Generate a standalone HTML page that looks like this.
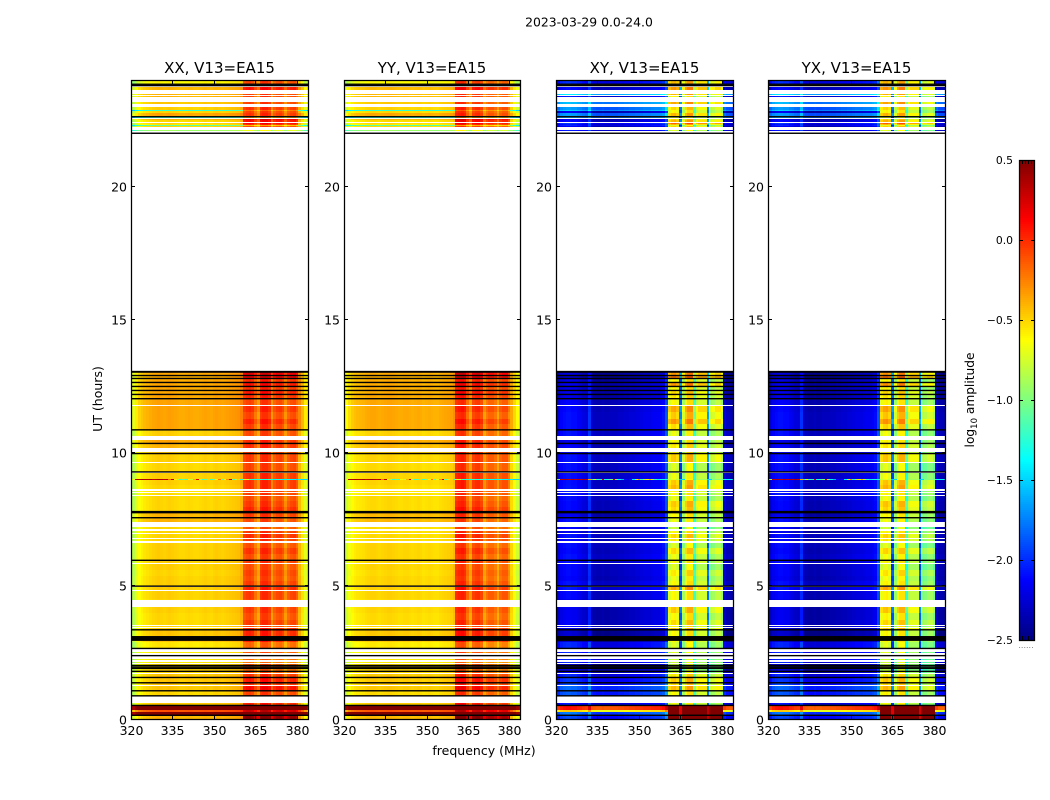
<!DOCTYPE html>
<html>
<head>
<meta charset="utf-8">
<title>2023-03-29 amplitude waterfall</title>
<style>
html,body{margin:0;padding:0;background:#fff;width:1050px;height:800px;overflow:hidden}
svg{display:block}
text{font-family:"DejaVu Sans","Liberation Sans",sans-serif;fill:#000}
</style>
</head>
<body>
<svg id="chart" xmlns="http://www.w3.org/2000/svg" width="1050" height="800" viewBox="0 0 1050 800">
  <rect x="0" y="0" width="1050" height="800" fill="#fff"/>
  <text x="589" y="26.5" font-size="12.4" text-anchor="middle">2023-03-29 0.0-24.0</text>
  <text x="484" y="755" font-size="12.5" text-anchor="middle">frequency (MHz)</text>
  <text transform="translate(102,399) rotate(-90)" font-size="12.5" text-anchor="middle">UT (hours)</text>
  <text transform="translate(974,400) rotate(-90)" font-size="12.2" text-anchor="middle">log<tspan font-size="8.5" dy="3">10</tspan><tspan dy="-3"> amplitude</tspan></text>
  <text x="1026" y="648" font-size="8" text-anchor="middle" fill="#777" style="fill:#777">......</text>
  <g id="panels"></g>
  <g id="colorbar"></g>
</svg>
<script>
/* ---- chart data ---- */
const panelTitles = ["XX, V13=EA15", "YY, V13=EA15", "XY, V13=EA15", "YX, V13=EA15"];
const xTickValues = [320, 335, 350, 365, 380];
const yTickValues = [0, 5, 10, 15, 20];
const colorbarTicks = [0.5, 0, -0.5, -1, -1.5, -2, -2.5];
const colorbarTickLabels = ["0.5", "0.0", "\u22120.5", "\u22121.0", "\u22121.5", "\u22122.0", "\u22122.5"];

/* log10 amplitude per 1 MHz channel, 320..384 MHz */
const spectrumXX = [-0.95,-0.85,-0.72,-0.64,-0.60,-0.57,-0.55,-0.53,-0.51,-0.50,
  -0.49,-0.50,-0.51,-0.50,-0.49,-0.50,-0.51,-0.52,-0.53,-0.53,
  -0.52,-0.51,-0.52,-0.53,-0.53,-0.52,-0.51,-0.50,-0.51,-0.52,
  -0.50,-0.49,-0.50,-0.51,-0.50,-0.49,-0.48,-0.47,-0.46,-0.45,
  -0.40,-0.16,-0.12,-0.10,-0.14,-0.28,-0.40,-0.10,-0.06,-0.06,
  -0.12,-0.38,-0.22,-0.16,-0.14,-0.20,-0.36,-0.22,-0.16,-0.14,
  -0.24,-0.42,-0.56,-0.72,-0.88];
const spectrumYY = [-0.88,-0.78,-0.68,-0.62,-0.59,-0.57,-0.56,-0.55,-0.53,-0.52,
  -0.51,-0.51,-0.52,-0.53,-0.52,-0.51,-0.50,-0.50,-0.51,-0.52,
  -0.53,-0.53,-0.52,-0.52,-0.53,-0.54,-0.53,-0.52,-0.53,-0.55,
  -0.54,-0.53,-0.54,-0.55,-0.55,-0.53,-0.52,-0.51,-0.50,-0.49,
  -0.44,-0.08,-0.05,-0.03,-0.07,-0.25,-0.40,-0.14,-0.10,-0.09,
  -0.15,-0.40,-0.28,-0.22,-0.22,-0.28,-0.42,-0.25,-0.20,-0.20,
  -0.34,-0.52,-0.66,-0.78,-0.88];
const spectrumXY = [-2.42,-2.30,-2.20,-2.17,-2.15,-2.15,-2.17,-2.17,-2.21,-2.23,
  -2.27,-2.30,-2.05,-2.35,-2.37,-2.39,-2.39,-2.37,-2.39,-2.39,
  -2.37,-2.37,-2.37,-2.35,-2.35,-2.33,-2.33,-2.31,-2.31,-2.29,
  -2.29,-2.27,-2.25,-2.25,-2.25,-2.23,-2.22,-2.22,-2.19,-2.15,
  -1.95,-0.82,-0.72,-0.70,-0.78,-2.00,-1.00,-0.72,-0.62,-0.62,
  -1.30,-0.95,-0.85,-0.85,-0.85,-1.90,-1.05,-1.00,-0.90,-0.90,
  -1.05,-2.30,-2.38,-2.40,-2.42];
const spectrumYX = [-2.42,-2.32,-2.22,-2.18,-2.16,-2.16,-2.18,-2.18,-2.23,-2.25,
  -2.29,-2.31,-2.06,-2.37,-2.39,-2.41,-2.41,-2.39,-2.41,-2.41,
  -2.39,-2.39,-2.39,-2.37,-2.37,-2.35,-2.35,-2.33,-2.33,-2.31,
  -2.31,-2.29,-2.27,-2.27,-2.27,-2.25,-2.24,-2.24,-2.21,-2.17,
  -1.95,-0.78,-0.70,-0.68,-0.76,-2.00,-1.02,-0.72,-0.64,-0.64,
  -1.35,-0.98,-0.90,-0.90,-0.90,-1.95,-1.12,-1.08,-1.00,-1.00,
  -1.15,-2.32,-2.40,-2.41,-2.42];

/* time rows that hold data (white gaps are flagged data) */
const rowStart = [0,.14,.30,.34,.51,.87,1.06,1.28,1.36,1.56,
  1.74,1.79,1.90,1.95,2.13,2.22,2.38,2.49,2.65,2.92,
  3.35,3.47,3.55,3.75,4.0,4.49,4.54,4.87,5.0,5.2,
  5.4,5.6,5.87,5.96,6.2,6.45,6.72,6.83,7.01,7.15,
  7.41,7.57,7.77,8.0,8.2,8.44,8.55,8.64,8.8,9.0,
  9.28,9.66,9.97,10.19,10.35,10.65,10.86,11.1,11.3,11.55,
  11.8,12.03,12.19,12.34,12.49,12.64,12.79,12.9,22.10,22.24,
  22.28,22.33,22.38,22.46,22.5,22.6,22.66,22.79,22.85,22.89,
  23.11,23.37,23.44,23.66,23.85];
const rowEnd = [.14,.30,.34,.51,.61,1.06,1.26,1.36,1.56,1.72,
  1.79,1.90,1.95,2.08,2.17,2.27,2.42,2.53,2.90,3.35,
  3.45,3.50,3.75,4.0,4.24,4.52,4.83,4.99,5.2,5.4,
  5.6,5.85,5.96,6.2,6.45,6.62,6.79,6.96,7.09,7.23,
  7.57,7.77,8.0,8.2,8.39,8.5,8.6,8.8,9.0,9.26,
  9.64,9.97,10.03,10.35,10.5,10.86,11.1,11.3,11.55,11.78,
  12.03,12.19,12.34,12.49,12.64,12.79,12.9,13.06,22.14,22.28,
  22.32,22.37,22.42,22.5,22.56,22.64,22.79,22.85,22.89,23.0,
  23.2,23.42,23.49,23.76,24];
const parallelBaseGain = [.1,1.2,.4,1.2,.05,0,.05,.05,.05,.05,
  0,.02,.05,0,-.05,-.05,-.05,-.05,-.05,.05,
  .02,0,0,0,.02,0,.02,.03,.02,.02,
  0,.02,.02,.02,.02,.02,0,0,0,0,
  .1,.1,0,0,0,-.02,-.02,0,.02,.02,
  0,.02,.05,.1,.15,.02,.15,.15,.15,.15,
  .15,.15,.14,.14,.14,.14,.12,.14,-.4,0,
  -.6,-.05,0,0,.1,-.7,.15,0,-.7,.02,
  .05,.1,.1,.1,-.1];
const parallelBandGain = [.6,1.2,.4,1.2,.15,.05,.22,.12,.18,.1,
  0,-.05,.02,0,-.1,-.05,.1,0,-.05,.15,
  .15,.05,.08,.03,.08,.05,.08,.15,.08,.03,
  .06,.02,.08,.03,.1,.02,.08,.12,.08,0,
  .03,.08,.14,.08,.03,.06,.06,.1,.1,.1,
  .05,.08,.08,.12,.12,.03,.07,.15,.05,.12,
  .05,.12,.18,.1,.2,.12,.28,.32,-.55,.02,
  -.3,.12,.22,.22,.3,-.2,.1,.05,-.1,.1,
  .06,.06,.06,.2,.05];
const crossBaseGain = [.25,.4,1.7,2.25,.1,.3,.35,.25,.2,.15,
  0,0,-.05,-.05,.15,.15,.1,.15,.15,-.1,
  -.05,.05,.03,0,0,0,.05,.1,.08,.03,
  .05,.05,.07,.08,.05,.07,.05,.08,0,.05,
  .07,0,.05,.05,.07,.1,.1,.08,.07,.07,
  .07,.08,.05,.02,-.03,.08,.07,.07,.07,.05,
  .03,-.03,-.01,-.03,-.01,-.05,-.07,-.07,.1,.03,
  .15,.1,.2,.05,0,.55,.5,0,.65,.5,
  .6,.1,.75,.05,.17];
const crossBandGain = [2.2,2.2,2.2,2.2,.05,.1,.3,.2,.25,.15,
  0,-.1,0,-.05,-.05,-.05,.1,0,0,.1,
  .25,.1,.2,.1,.25,.1,.1,.35,.1,.05,
  .15,0,.1,.05,.2,0,.15,.2,.1,-.05,
  .05,.1,.2,.25,.05,.1,.1,.3,.25,.05,
  0,.25,.1,.15,.1,.05,.2,.4,.25,.35,
  .1,.15,.2,.1,.4,.1,.5,.4,0,.2,
  0,.3,.55,.3,.2,0,.3,.1,.1,.2,
  .35,.1,.3,.4,.3];

/* UT hours of the black flagged lines */
const blackLines = [.14,.51,.87,1.06,1.36,1.56,1.79,1.90,1.95,2.01,
  2.38,2.65,2.96,3.0,3.05,3.09,3.35,4.99,5.96,7.56,
  7.75,7.79,9.28,9.97,10.35,10.86,12.03,12.19,12.34,12.49,
  12.64,12.79,12.9,13.03,13.05,22.0,22.62,23.79,23.84];
/* short narrowband burst at one time slice */
const burstStart = 9.0;
const burstEnd = 9.04;
const burstParallel = [-0.5,-0.6,0.35,0.35,0.4,0.35,0.35,0.4,0.3,0.35,
  0.4,0.35,0.3,0.35,-0.2,0.35,-0.6,-0.9,-1.2,-1.1,
  -1.2,-0.6,-0.8,-0.4,0.2,-0.9,-1.2,-1.1,-0.5,-1.2,
  -1.0,-0.6,-0.2,-1.1,-0.7,-0.3,0.3,-1.1,-0.8,-0.5,
  -1.3,-0.7,-0.8,-1.2,-1.3,-1.3,-1.3,-1.2,-1.3,-1.3,
  -1.2,-1.3,-1.4,-1.3,-1.3,-1.4,-1.4,-1.3,-1.4,-1.4,
  -1.5,-1.4,-1.5,-1.5,-1.4];
const burstCross = [-2.2,-1.0,0.3,0.35,0.35,0.3,0.35,0.3,0.35,0.3,
  0.35,0.3,-0.4,-1.3,-0.6,-1.2,-1.3,0.2,-1.3,-1.2,
  -1.0,0.2,-1.0,-1.4,-1.6,-2.1,-2.2,-2.1,-1.4,-0.7,
  -0.3,-1.2,-0.8,-0.6,-0.4,-0.8,-1.2,-1.4,-1.3,-1.3,
  -1.3,-0.8,-0.7,-0.7,-0.8,-1.5,-1.5,-0.6,-0.6,-0.6,
  -1.3,-0.9,-0.9,-0.9,-0.9,-1.5,-1.5,-1.0,-1.0,-1.0,
  -1.0,-1.3,-1.4,-1.4,-1.5];

/* ---- layout ---- */
const NS = "http://www.w3.org/2000/svg";
const panelLefts = [131, 344, 556, 768];
const panelRights = [308, 520, 733, 945];
const plotTop = 80;
const plotBottom = 720;
const freqMin = 320;
const freqMax = 384;
const utMax = 24;
const bandFreqStart = 361;
const bandFreqEnd = 380;

function xScale(panel, f) {
  return panelLefts[panel] + (f - freqMin) / (freqMax - freqMin) * (panelRights[panel] - panelLefts[panel]);
}
function yScale(t) {
  return 719.5 - t * (639 / utMax);
}
function jetChannel(v) {
  return Math.max(0, Math.min(1, v));
}
function jetColor(value) {
  const t = Math.max(0, Math.min(1, (value + 2.5) / 3));
  const r = jetChannel(1.5 - Math.abs(4 * t - 3));
  const g = jetChannel(1.5 - Math.abs(4 * t - 2));
  const b = jetChannel(1.5 - Math.abs(4 * t - 1));
  return "rgb(" + Math.round(r * 255) + "," + Math.round(g * 255) + "," + Math.round(b * 255) + ")";
}
function make(tag) {
  return document.createElementNS(NS, tag);
}

const panelsRoot = document.getElementById("panels");
const spectra = [spectrumXX, spectrumYY, spectrumXY, spectrumYX];

panelTitles.forEach(function (title, p) {
  const left = panelLefts[p];
  const right = panelRights[p];
  const isCross = p >= 2;
  const group = make("g");
  
  
  const frag = document.createDocumentFragment();

  /* heatmap cells */
  function addCell(t0, t1, ch, value) {
    const f = freqMin + ch;
    const xa = Math.round(xScale(p, Math.max(freqMin, f - 0.5)));
    const xb = Math.round(xScale(p, Math.min(freqMax, f + 0.5)));
    const ya = Math.round(yScale(t1));
    const yb = Math.round(yScale(t0));
    const cell = make("rect");
    cell.setAttribute("x", xa);
    cell.setAttribute("y", Math.max(plotTop, ya));
    cell.setAttribute("width", Math.max(0, Math.min(right, xb) - xa));
    cell.setAttribute("height", Math.max(1, yb - ya));
    cell.setAttribute("fill", jetColor(value));
    cell.setAttribute("shape-rendering", "crispEdges");
    
    
    frag.appendChild(cell);
  }
  rowStart.forEach(function (t0, r) {
    const baseGain = isCross ? crossBaseGain[r] : parallelBaseGain[r];
    const bandGain = isCross ? crossBandGain[r] : parallelBandGain[r];
    spectra[p].forEach(function (level, ch) {
      const f = freqMin + ch;
      const inBand = f >= bandFreqStart && f <= bandFreqEnd;
      addCell(t0, rowEnd[r], ch, level + (inBand ? bandGain : baseGain));
    });
  });
  (isCross ? burstCross : burstParallel).forEach(function (value, ch) {
    addCell(burstStart, burstEnd, ch, value);
  });

  /* black flagged lines */
  blackLines.forEach(function (t) {
    const line = make("rect");
    line.setAttribute("x", left);
    line.setAttribute("y", yScale(t) - 1.2);
    line.setAttribute("width", right - left);
    line.setAttribute("height", 1.4);
    line.setAttribute("fill", "#000");
    
    
    frag.appendChild(line);
  });

  /* frame */
  const frame = make("rect");
  frame.setAttribute("x", left + 0.5);
  frame.setAttribute("y", plotTop + 0.5);
  frame.setAttribute("width", right - left);
  frame.setAttribute("height", plotBottom - plotTop - 1);
  frame.setAttribute("fill", "none");
  frame.setAttribute("stroke", "#000");
  frame.setAttribute("stroke-width", "1.25");
  
  
  frag.appendChild(frame);

  /* x ticks */
  xTickValues.forEach(function (f) {
    const x = Math.round(xScale(p, f)) + 0.5;
    [[plotBottom - 4, plotBottom], [plotTop, plotTop + 4]].forEach(function (seg) {
      const tick = make("line");
      tick.setAttribute("x1", x);
      tick.setAttribute("x2", x);
      tick.setAttribute("y1", seg[0]);
      tick.setAttribute("y2", seg[1]);
      tick.setAttribute("stroke", "#000");
      tick.setAttribute("shape-rendering", "crispEdges");
      
      
      frag.appendChild(tick);
    });
    const label = make("text");
    label.setAttribute("x", x);
    label.setAttribute("y", 735);
    label.setAttribute("font-size", "12.5");
    label.setAttribute("text-anchor", "middle");
    
    
    label.textContent = String(f);
    frag.appendChild(label);
  });

  /* y ticks */
  yTickValues.forEach(function (t) {
    const y = Math.round(yScale(t)) - 0.5;
    [[left, left + 4], [right - 3, right + 1]].forEach(function (seg) {
      const tick = make("line");
      tick.setAttribute("x1", seg[0]);
      tick.setAttribute("x2", seg[1]);
      tick.setAttribute("y1", y);
      tick.setAttribute("y2", y);
      tick.setAttribute("stroke", "#000");
      tick.setAttribute("shape-rendering", "crispEdges");
      
      
      frag.appendChild(tick);
    });
    const label = make("text");
    label.setAttribute("x", left - 4);
    label.setAttribute("y", y + 5);
    label.setAttribute("font-size", "12.5");
    label.setAttribute("text-anchor", "end");
    
    
    label.textContent = String(t);
    frag.appendChild(label);
  });

  /* title */
  const heading = make("text");
  heading.setAttribute("x", (left + right) / 2);
  heading.setAttribute("y", 73);
  heading.setAttribute("font-size", "15");
  heading.setAttribute("text-anchor", "middle");
  
  
  heading.textContent = title;
  frag.appendChild(heading);

  group.appendChild(frag);
  panelsRoot.appendChild(group);
});

/* ---- colorbar ---- */
const cbLeft = 1019;
const cbRight = 1034;
const cbTop = 160;
const cbBottom = 640;
const cbMin = -2.5;
const cbMax = 0.5;
function cbScale(v) {
  return cbBottom - (v - cbMin) / (cbMax - cbMin) * (cbBottom - cbTop);
}
const cbRoot = document.getElementById("colorbar");
for (let py = cbTop; py < cbBottom; py += 2) {
  const value = cbMax - (py + 1 - cbTop) / (cbBottom - cbTop) * (cbMax - cbMin);
  const band = make("rect");
  band.setAttribute("x", cbLeft);
  band.setAttribute("y", py);
  band.setAttribute("width", cbRight - cbLeft);
  band.setAttribute("height", 2);
  band.setAttribute("fill", jetColor(value));
  band.setAttribute("shape-rendering", "crispEdges");
  
  
  cbRoot.appendChild(band);
}
const cbFrame = make("rect");
cbFrame.setAttribute("x", cbLeft + 0.5);
cbFrame.setAttribute("y", cbTop + 0.5);
cbFrame.setAttribute("width", cbRight - cbLeft);
cbFrame.setAttribute("height", cbBottom - cbTop);
cbFrame.setAttribute("fill", "none");
cbFrame.setAttribute("stroke", "#000");
cbFrame.setAttribute("stroke-width", "1.25");


cbRoot.appendChild(cbFrame);
for (let i = 1; i <= 4; i++) {
  const edgeX = cbLeft + i * 3 + 0.5;
  [[cbTop, cbTop + 4], [cbBottom - 4, cbBottom]].forEach(function (seg) {
    const edgeTick = make("line");
    edgeTick.setAttribute("x1", edgeX);
    edgeTick.setAttribute("x2", edgeX);
    edgeTick.setAttribute("y1", seg[0]);
    edgeTick.setAttribute("y2", seg[1]);
    edgeTick.setAttribute("stroke", "#000");
    edgeTick.setAttribute("shape-rendering", "crispEdges");
    
    
    cbRoot.appendChild(edgeTick);
  });
}
colorbarTicks.forEach(function (v, i) {
  const y = Math.round(cbScale(v)) + 0.5;
  [[cbLeft, cbLeft + 4], [cbRight - 3, cbRight + 1]].forEach(function (seg) {
    const tick = make("line");
    tick.setAttribute("x1", seg[0]);
    tick.setAttribute("x2", seg[1]);
    tick.setAttribute("y1", y);
    tick.setAttribute("y2", y);
    tick.setAttribute("stroke", "#000");
    tick.setAttribute("shape-rendering", "crispEdges");
    
    
    cbRoot.appendChild(tick);
  });
  const label = make("text");
  label.setAttribute("x", cbLeft - 6);
  label.setAttribute("y", y + 3.5);
  label.setAttribute("font-size", "10.8");
  label.setAttribute("text-anchor", "end");
  
  
  label.textContent = colorbarTickLabels[i];
  cbRoot.appendChild(label);
});
</script>
</body>
</html>
